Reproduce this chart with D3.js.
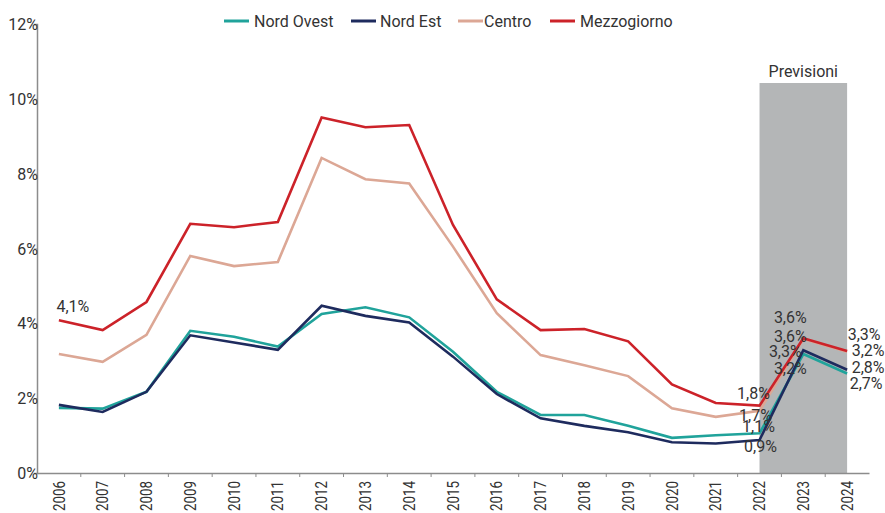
<!DOCTYPE html>
<html>
<head>
<meta charset="utf-8">
<script src="https://cdn.jsdelivr.net/npm/d3@7"></script>
<style>
  html, body { margin: 0; padding: 0; background: #fff; }
  svg { display: block; font-family: Roboto, "Noto Sans", sans-serif; }
</style>
</head>
<body>
<svg id="chart" width="885" height="513"></svg>
<script>
// ---- data ----
const years = ["2006","2007","2008","2009","2010","2011","2012","2013","2014","2015","2016","2017","2018","2019","2020","2021","2022","2023","2024"];
const nordOvest   = [1.74, 1.72, 2.17, 3.80, 3.64, 3.38, 4.25, 4.43, 4.16, 3.24, 2.17, 1.55, 1.55, 1.26, 0.94, 1.01, 1.06, 3.18, 2.66];
const nordEst     = [1.82, 1.63, 2.17, 3.68, 3.49, 3.29, 4.47, 4.20, 4.02, 3.11, 2.11, 1.46, 1.26, 1.09, 0.82, 0.79, 0.88, 3.28, 2.76];
const centro      = [3.18, 2.97, 3.69, 5.80, 5.53, 5.64, 8.42, 7.85, 7.74, 6.05, 4.27, 3.15, 2.88, 2.59, 1.73, 1.50, 1.66, 3.58, 3.24];
const mezzogiorno = [4.08, 3.82, 4.57, 6.66, 6.57, 6.71, 9.50, 9.24, 9.30, 6.63, 4.64, 3.82, 3.85, 3.52, 2.37, 1.87, 1.80, 3.60, 3.26];
const seriesNames = ["Nord Ovest", "Nord Est", "Centro", "Mezzogiorno"];
const yTicks = [0, 2, 4, 6, 8, 10, 12];
const forecastYears = ["2022", "2024"];
const forecastLabel = "Previsioni";

// ---- styling / layout ----
const colors = ["#20a39b", "#1e2b5e", "#dca795", "#cc2229"];
const seriesValues = [nordOvest, nordEst, centro, mezzogiorno];
const textColor = "#333";
const axisColor = "#8c8c8c";

// data labels: [seriesIndex, year, dx, dy]
const labelSpecs = [
  [3, "2006", 14, -8],
  [3, "2022", -6, -7],
  [2, "2022", -4, 10],
  [0, "2022", -1, -1],
  [1, "2022", 1, 12],
  [3, "2023", -13, -15],
  [2, "2023", -13, 3],
  [1, "2023", -18, 7],
  [0, "2023", -13, 20],
  [3, "2024", 17, -11],
  [2, "2024", 21, 4],
  [1, "2024", 21, 3],
  [0, "2024", 19, 16]
];

const svg = d3.select("#chart");

const x = d3.scaleBand().domain(years).range([37, 869]).padding(0);
const cx = d => x(d) + x.bandwidth() / 2;
const y = d3.scaleLinear().domain([0, 12]).range([473, 24]);

// forecast band
svg.append("rect")
  .attr("x", cx(forecastYears[0]))
  .attr("y", 83)
  .attr("width", cx(forecastYears[1]) - cx(forecastYears[0]))
  .attr("height", y(0) - 83)
  .attr("fill", "#b4b6b7");
svg.append("text")
  .attr("x", (cx(forecastYears[0]) + cx(forecastYears[1])) / 2)
  .attr("y", 77)
  .attr("text-anchor", "middle")
  .attr("font-size", 16)
  .attr("fill", textColor)
  .text(forecastLabel);

// y axis
const yAxis = d3.axisLeft(y).tickValues(yTicks).tickSize(3).tickFormat(d => d + "%");
const gy = svg.append("g").attr("transform", "translate(37,0)").call(yAxis);
gy.select(".domain").attr("stroke", axisColor).attr("stroke-width", 1.5);
gy.selectAll(".tick line").attr("stroke", axisColor);
gy.selectAll(".tick text")
  .attr("x", 1).attr("dy", "0.35em")
  .attr("font-size", 16).attr("fill", textColor)
  .attr("font-family", "Roboto");

// x axis
const xAxis = d3.axisBottom(x).tickSize(0).tickSizeOuter(0);
const gx = svg.append("g").attr("transform", "translate(0,473)").call(xAxis);
gx.select(".domain").attr("stroke", axisColor).attr("stroke-width", 1.5);
gx.selectAll(".tick text")
  .attr("transform", "rotate(-90)")
  .attr("text-anchor", "end")
  .attr("x", -8).attr("y", 0).attr("dy", "0.35em")
  .attr("font-size", 16).attr("fill", textColor)
  .attr("font-family", "Roboto")
  .attr("textLength", 30).attr("lengthAdjust", "spacingAndGlyphs");
// tick marks at band boundaries
gx.selectAll(".bound")
  .data(years.slice(1))
  .enter().append("line")
  .attr("x1", d => x(d)).attr("x2", d => x(d))
  .attr("y1", 0).attr("y2", 4)
  .attr("stroke", axisColor);

// lines
const line = d3.line().x((d, i) => cx(years[i])).y(d => y(d));
seriesValues.forEach((vals, si) => {
  svg.append("path")
    .datum(vals)
    .attr("d", line)
    .attr("fill", "none")
    .attr("stroke", colors[si])
    .attr("stroke-width", 2.6)
    .attr("stroke-linejoin", "miter");
});

// data labels
const fmt = v => d3.format(".1f")(v).replace(".", ",") + "%";
labelSpecs.forEach(([si, yr, dx, dy]) => {
  const v = seriesValues[si][years.indexOf(yr)];
  svg.append("text")
    .attr("x", cx(yr) + dx)
    .attr("y", y(v) + dy)
    .attr("text-anchor", "middle")
    .attr("font-size", 16)
    .attr("fill", textColor)
    .text(fmt(v));
});

// legend
const legendItems = [
  { x: 224, w: 25, tx: 254 },
  { x: 351, w: 25, tx: 380 },
  { x: 458, w: 25, tx: 484 },
  { x: 550, w: 25, tx: 580 }
];
legendItems.forEach((it, i) => {
  svg.append("line")
    .attr("x1", it.x).attr("x2", it.x + it.w)
    .attr("y1", 21).attr("y2", 21)
    .attr("stroke", colors[i]).attr("stroke-width", 3);
  svg.append("text")
    .attr("x", it.tx).attr("y", 27)
    .attr("font-size", 16).attr("fill", textColor)
    .text(seriesNames[i]);
});
</script>
</body>
</html>
